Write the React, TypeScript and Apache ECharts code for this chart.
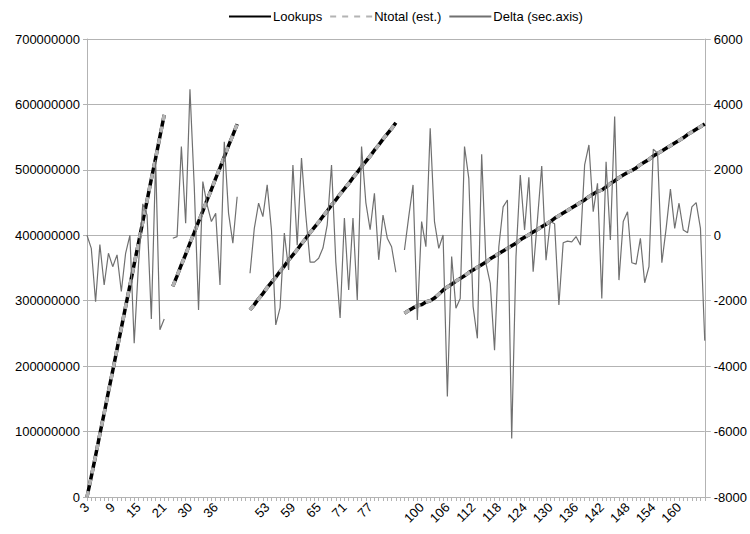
import React, { useEffect, useRef } from 'react';
import * as echarts from 'echarts';

// Category values along the x axis (null = empty separator row)
const categoryNumbers: (number | null)[] = [
  3, 4, 5, 6, 7, 8, 9, 10, 11, 12, 13, 14, 15, 16, 17, 18, 19, 20, 21,
  null,
  26, 27, 28, 29, 30, 31, 32, 33, 34, 35, 36, 37, 38, 39, 40, 41,
  null, null,
  49, 50, 51, 52, 53, 54, 55, 56, 57, 58, 59, 60, 61, 62, 63, 64, 65, 66, 67, 68, 69, 70,
  71, 72, 73, 74, 75, 76, 77, 78, 79, 80, 81, 82, 83,
  null,
  96, 97, 98, 99, 100, 101, 102, 103, 104, 105, 106, 107, 108, 109, 110, 111, 112, 113, 114, 115,
  116, 117, 118, 119, 120, 121, 122, 123, 124, 125, 126, 127, 128, 129, 130, 131, 132, 133, 134, 135,
  136, 137, 138, 139, 140, 141, 142, 143, 144, 145, 146, 147, 148, 149, 150, 151, 152, 153, 154, 155,
  156, 157, 158, 159, 160, 161, 162, 163, 164, 165, 166,
];

// Tick labels visible on the x axis
const shownTickLabels = [3, 9, 15, 21, 30, 36, 53, 59, 65, 71, 77, 100, 106, 112, 118, 124, 130, 136, 142, 148, 154, 160];

// Lookups (millions), per run segment
const lookupsSeg1 = [0, 31, 63, 96, 128, 161, 193, 226, 258, 291, 323, 356, 388, 421, 453, 486, 518, 551, 584];
const lookupsSeg2 = [322, 338, 355, 371, 388, 404, 421, 437, 454, 470, 487, 503, 520, 537, 553, 570];
const lookupsSeg3 = [286, 294, 303, 311, 320, 328, 336, 345, 353, 362, 370, 378, 387, 395, 404, 412, 420, 429, 437, 446,
  454, 463, 471, 479, 488, 496, 505, 513, 521, 530, 538, 547, 555, 563, 572];
const lookupsSeg4 = [281, 285, 289, 292, 294, 298, 300, 304, 310, 316, 321, 325, 330, 334, 338, 343, 347, 351, 355, 359,
  364, 368, 372, 376, 380, 384, 388, 393, 397, 401, 405, 409, 413, 417, 421, 426, 430, 434, 438, 442,
  446, 450, 454, 459, 463, 467, 469, 474, 479, 483, 488, 492, 496, 499, 503, 508, 512, 516, 521, 525,
  529, 533, 537, 541, 545, 549, 554, 558, 562, 566, 570];

// Ntotal (est.) (millions), per run segment
const ntotalSeg1 = [0, 31, 63, 96, 128, 161, 193, 226, 258, 291, 323, 356, 388, 421, 453, 486, 518, 551, 584];
const ntotalSeg2 = [322, 338, 355, 371, 388, 404, 421, 437, 454, 470, 487, 503, 520, 537, 553, 570];
const ntotalSeg3 = [286, 294, 303, 311, 320, 328, 336, 345, 353, 362, 370, 378, 387, 395, 404, 412, 420, 429, 437, 446,
  454, 463, 471, 479, 488, 496, 505, 513, 521, 530, 538, 547, 555, 563, 572];
const ntotalSeg4 = [281, 285, 289, 292, 294, 298, 300, 304, 310, 316, 321, 325, 330, 334, 338, 343, 347, 351, 355, 359,
  364, 368, 372, 376, 380, 384, 388, 393, 397, 401, 405, 409, 413, 417, 421, 426, 430, 434, 438, 442,
  446, 450, 454, 459, 463, 467, 469, 474, 479, 483, 488, 492, 496, 499, 503, 508, 512, 516, 521, 525,
  529, 533, 537, 541, 545, 549, 554, 558, 562, 566, 570];

// Delta (secondary axis), per run segment
const deltaSeg1 = [0, -400, -2030, -280, -1520, -550, -960, -600, -1720, -550, 0, -3300, -900, 960, 620, -2560, 2300, -2890, -2560];
const deltaSeg2 = [-90, -40, 2710, 370, 4460, 1500, -2280, 1640, 930, 420, 670, -1520, 2860, 670, -240, 1180];
const deltaSeg3 = [-1160, 210, 980, 570, 1540, 160, -2740, -2220, 70, -1060, 2150, -300, 2360, 620, -820, -820, -700, -390, 320, 2150,
  -820, -2530, 530, -1670, 530, -1980, 2710, 1000, 170, 1280, -750, 620, -90, -350, -1130];
const deltaSeg4 = [-450, 570, 1540, -2590, 420, -350, 3270, 420, -400, 10,
  -4930, -650, -2230, -1930, 2710, 1740, -2180, -3150, 2480, -860,
  -1470, -3510, -350, 870, 1080, -6210, -650, 1840, 160, 1770,
  -1110, 470, 2120, -760, 420, 350, -2130, -230, -180, -200,
  -40, -300, 2150, 2760, 720, 1590, -1930, 2250, -140, 3630,
  -1370, 420, 720, -840, -880, -90, -1450, -960, 2630, 2510,
  -840, 210, 1410, 210, 980, 160, 80, 870, 1000, 210,
  -3220];

const leftTicks = { min: 0, max: 700000000, interval: 100000000 };
const rightTicks = { min: -8000, max: 6000, interval: 2000 };

const MILLION = 1000000;

function joinSegments(a: number[], b: number[], c: number[], d: number[], scale: number): (number | null)[] {
  const s = (arr: number[]) => arr.map((v) => v * scale);
  return [...s(a), null, ...s(b), null, null, ...s(c), null, ...s(d)];
}

const FONT = '"Liberation Sans", Arial, sans-serif';
const AXIS_GRAY = '#b3b3b3';

export default function App() {
  const ref = useRef<HTMLDivElement>(null);

  useEffect(() => {
    if (!ref.current) return;
    const chart = echarts.init(ref.current, null, { renderer: 'svg' });
    const categories = categoryNumbers.map((n) => (n === null ? '' : String(n)));
    const shown = new Set(shownTickLabels.map(String));

    chart.setOption({
      animation: false,
      backgroundColor: '#ffffff',
      textStyle: { fontFamily: FONT, fontSize: 13, color: '#000' },
      legend: {
        left: 223,
        top: 5,
        itemWidth: 42,
        itemHeight: 14,
        itemGap: 7,
        itemStyle: { opacity: 0 },
        textStyle: { fontFamily: FONT, fontSize: 13, color: '#000', padding: [0, 0, 0, -3] },
        data: ['Lookups', 'Ntotal (est.)', 'Delta (sec.axis)'],
      },
      grid: { left: 87, right: 44.5, top: 39, bottom: 37, containLabel: false },
      xAxis: {
        type: 'category',
        data: categories,
        boundaryGap: false,
        axisLine: { show: true, lineStyle: { color: AXIS_GRAY, width: 1 } },
        axisTick: { show: true, interval: 0, length: 4, lineStyle: { color: AXIS_GRAY } },
        axisLabel: {
          interval: (_i: number, value: string) => shown.has(value),
          rotate: 45,
          margin: 8,
          fontFamily: FONT,
          fontSize: 13,
          color: '#000',
        },
        splitLine: { show: false },
      },
      yAxis: [
        {
          type: 'value',
          min: leftTicks.min,
          max: leftTicks.max,
          interval: leftTicks.interval,
          axisLine: { show: true, lineStyle: { color: AXIS_GRAY } },
          axisTick: { show: true, length: 4, lineStyle: { color: AXIS_GRAY } },
          splitLine: { show: true, lineStyle: { color: AXIS_GRAY, width: 1 } },
          axisLabel: { formatter: (v: number) => String(v), margin: 7, fontFamily: FONT, fontSize: 13, color: '#000' },
        },
        {
          type: 'value',
          position: 'right',
          min: rightTicks.min,
          max: rightTicks.max,
          interval: rightTicks.interval,
          axisLine: { show: true, lineStyle: { color: AXIS_GRAY } },
          axisTick: { show: true, length: 6, lineStyle: { color: AXIS_GRAY } },
          splitLine: { show: false },
          axisLabel: { formatter: (v: number) => String(v), margin: 9, fontFamily: FONT, fontSize: 13, color: '#000' },
        },
      ],
      series: [
        {
          name: 'Lookups',
          type: 'line',
          data: joinSegments(lookupsSeg1, lookupsSeg2, lookupsSeg3, lookupsSeg4, MILLION),
          symbol: 'none',
          connectNulls: false,
          itemStyle: { color: '#000' },
          lineStyle: { color: '#000', width: 3.5 },
          z: 2,
        },
        {
          name: 'Ntotal (est.)',
          type: 'line',
          data: joinSegments(ntotalSeg1, ntotalSeg2, ntotalSeg3, ntotalSeg4, MILLION),
          symbol: 'none',
          connectNulls: false,
          itemStyle: { color: '#b3b3b3' },
          lineStyle: { color: '#b3b3b3', width: 3.5, type: [6, 6] },
          z: 3,
        },
        {
          name: 'Delta (sec.axis)',
          type: 'line',
          yAxisIndex: 1,
          data: joinSegments(deltaSeg1, deltaSeg2, deltaSeg3, deltaSeg4, 1),
          symbol: 'none',
          connectNulls: false,
          itemStyle: { color: '#707070' },
          lineStyle: { color: '#707070', width: 1.2 },
          z: 4,
        },
      ],
    });

    return () => chart.dispose();
  }, []);

  return (
    <div
      ref={ref}
      style={{ position: 'fixed', left: 0, top: 0, width: 750, height: 534, background: '#fff' }}
    />
  );
}
